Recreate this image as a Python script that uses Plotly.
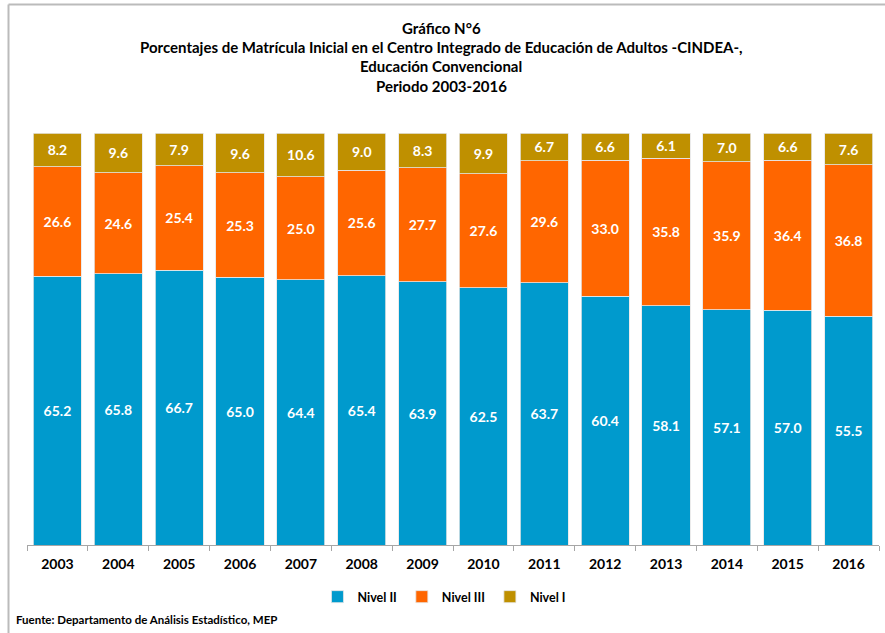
import plotly.graph_objects as go

years = ["2003", "2004", "2005", "2006", "2007", "2008", "2009",
         "2010", "2011", "2012", "2013", "2014", "2015", "2016"]
nivel_ii = [65.2, 65.8, 66.7, 65.0, 64.4, 65.4, 63.9, 62.5, 63.7, 60.4, 58.1, 57.1, 57.0, 55.5]
nivel_iii = [26.6, 24.6, 25.4, 25.3, 25.0, 25.6, 27.7, 27.6, 29.6, 33.0, 35.8, 35.9, 36.4, 36.8]
nivel_i = [8.2, 9.6, 7.9, 9.6, 10.6, 9.0, 8.3, 9.9, 6.7, 6.6, 6.1, 7.0, 6.6, 7.6]

series = [("Nivel II", nivel_ii, "#009ACD"),
          ("Nivel III", nivel_iii, "#FF6600"),
          ("Nivel I", nivel_i, "#BF9000")]

FONT = "Lato"
W, H = 885, 633
ML, MR, MT, MB = 27, 6, 133, 88
PW, PH = W - ML - MR, H - MT - MB

def px_x(x):
    return (x - ML) / PW

def px_y(y):
    return (H - MB - y) / PH

fig = go.Figure()
for name, vals, col in series:
    fig.add_trace(go.Bar(
        x=years, y=vals, name=name,
        marker=dict(color=col, line=dict(color="#E6E6E6", width=0.8)),
        text=vals, texttemplate="%{y:.1f}", textposition="inside",
        insidetextanchor="middle", textangle=0,
        textfont=dict(family=FONT, size=14, color="white", weight="bold"),
    ))

title_lines = ["Gráfico N°6",
               "Porcentajes de Matrícula Inicial en el Centro Integrado de Educación de Adultos -CINDEA-,",
               "Educación Convencional",
               "Periodo 2003-2016"]
title_y = [28, 47, 66, 86]
annotations = []
for t, yy in zip(title_lines, title_y):
    annotations.append(dict(text=t, x=px_x(441), y=px_y(yy), xref="paper", yref="paper",
                            xanchor="center", yanchor="middle", showarrow=False,
                            font=dict(family=FONT, size=15, color="#000000", weight="bold")))
annotations.append(dict(text="Fuente: Departamento de Análisis Estadístico, MEP",
                        x=px_x(14), y=px_y(619), xref="paper", yref="paper",
                        xanchor="left", yanchor="middle", showarrow=False,
                        font=dict(family=FONT, size=11.5, color="#000000", weight="bold")))

shapes = [
    dict(type="line", xref="paper", yref="paper", x0=px_x(8.5), x1=px_x(890),
         y0=px_y(4.5), y1=px_y(4.5), line=dict(color="#BBBBBB", width=2)),
    dict(type="line", xref="paper", yref="paper", x0=px_x(8.5), x1=px_x(8.5),
         y0=px_y(4.5), y1=px_y(640), line=dict(color="#BBBBBB", width=2)),
]

fig.update_layout(
    width=W, height=H,
    margin=dict(l=ML, r=MR, t=MT, b=MB),
    barmode="stack", bargap=0.21,
    plot_bgcolor="white", paper_bgcolor="white",
    showlegend=True,
    legend=dict(orientation="h", x=0.49, xanchor="center", y=px_y(597), yanchor="middle",
                font=dict(family=FONT, size=12.5, color="#000000", weight="bold"),
                itemwidth=30, traceorder="normal"),
    xaxis=dict(showline=True, linecolor="#A6A6A6", linewidth=1,
               ticks="outside", ticklen=5, tickcolor="#A6A6A6", tickson="boundaries",
               ticklabelstandoff=6,
               tickfont=dict(family=FONT, size=14, color="#000000", weight="bold"),
               showgrid=False),
    yaxis=dict(range=[0, 100], visible=False, showgrid=False),
    annotations=annotations, shapes=shapes,
    uniformtext=dict(minsize=8),
)

fig.write_html("out.html", config={"displayModeBar": False},
               post_script="document.body.style.margin='0';")
